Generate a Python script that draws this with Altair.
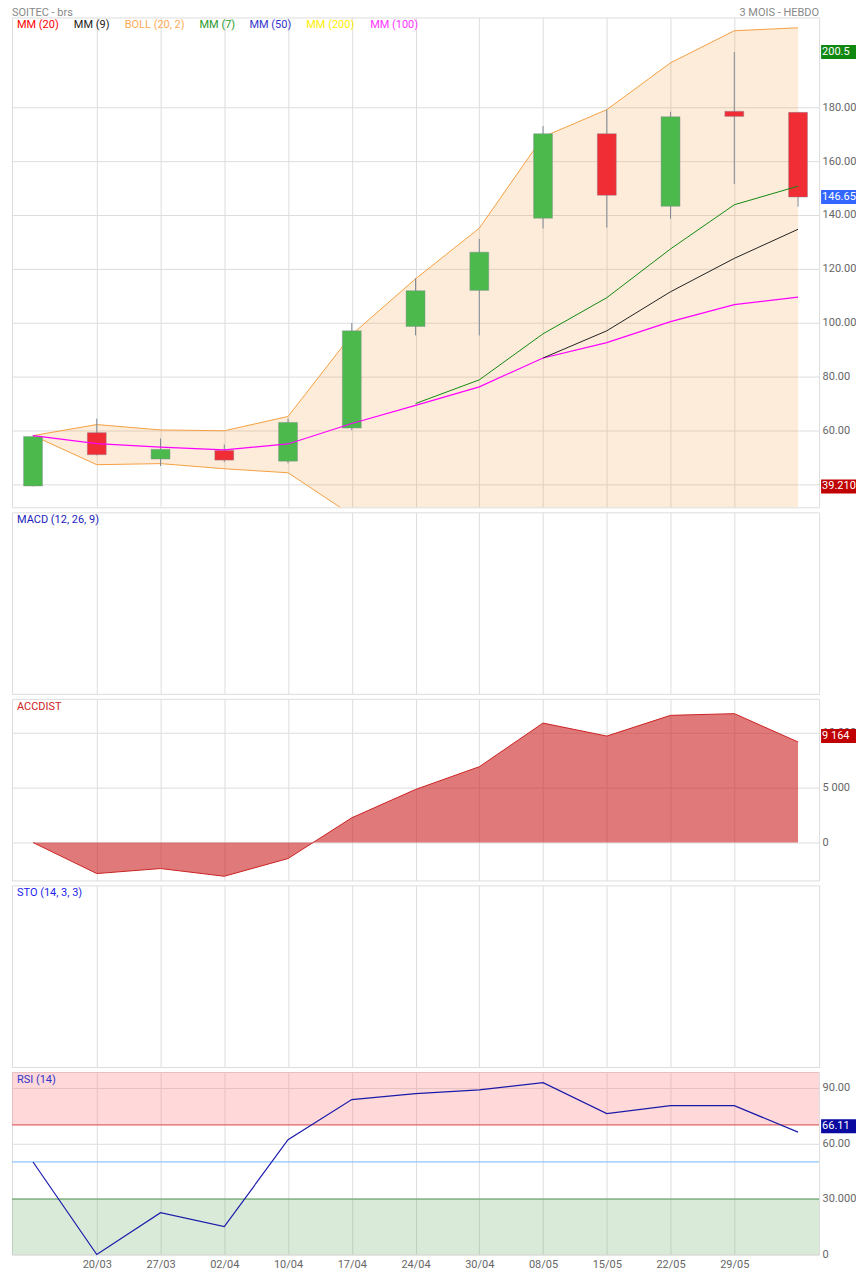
import altair as alt
import pandas as pd

# ---------------- data ----------------
tick_labels = ["20/03", "27/03", "02/04", "10/04", "17/04", "24/04",
               "30/04", "08/05", "15/05", "22/05", "29/05"]

opens  = [39.4, 59.2, 49.4, 52.6, 48.6, 60.9, 98.6, 112.0, 138.8, 170.2, 143.2, 178.5, 178.1]
highs  = [58.2, 64.4, 57.0, 54.8, 64.4, 99.9, 116.5, 131.1, 173.0, 179.1, 178.3, 200.5, 178.3]
lows   = [39.21, 50.8, 46.8, 48.3, 47.8, 60.1, 95.3, 95.3, 135.0, 135.3, 138.6, 151.5, 143.1]
closes = [57.8, 51.0, 53.0, 49.0, 63.0, 97.0, 111.9, 126.2, 170.2, 147.3, 176.5, 176.6, 146.65]

boll_up = [58.1, 62.2, 60.2, 59.9, 65.2, 95.6, 116.3, 135.1, 169.0, 179.1, 196.5, 208.4, 209.5]
boll_lo = [58.1, 47.3, 47.7, 45.8, 44.3, 28.6, 22.0, 17.0, 8.0, 5.0, 3.0, 2.0, 3.0]

mm7   = [None] * 6 + [70.0, 78.8, 95.9, 109.3, 127.4, 143.8, 150.7]
mm9   = [None] * 8 + [86.9, 97.0, 111.5, 123.9, 134.7]
mm100 = [58.1, 55.1, 53.8, 52.8, 55.0, 62.6, 69.3, 76.2, 86.9, 92.6, 100.4, 106.7, 109.5]

accdist = [0, -2828, -2372, -3075, -1460, 2254, 4836, 6907, 10885, 9699, 11588, 11743, 9164]
rsi = [50.0, 0.0, 22.6, 15.1, 62.0, 83.7, 86.9, 88.9, 92.8, 76.1, 80.4, 80.4, 66.11]

legend_names = ["MM (20)", "MM (9)", "BOLL (20, 2)", "MM (7)", "MM (50)", "MM (200)", "MM (100)"]
panel_names = ["MACD (12, 26, 9)", "ACCDIST", "STO (14, 3, 3)", "RSI (14)"]
title_left = "SOITEC - brs"
title_right = "3 MOIS - HEBDO"

rsi_levels = [70, 50, 30]

# ---------------- styles ----------------
FONT = "Roboto"
W = 809
GRID = "#dddddd"
LAB = "#666666"
GREEN_C = "#4cb94c"
RED_C = "#f02c34"

n = len(opens)
df = pd.DataFrame({
    "i": list(range(n)), "open": opens, "high": highs, "low": lows, "close": closes,
    "bu": boll_up, "bl": boll_lo, "mm7": mm7, "mm9": mm9, "mm100": mm100,
    "acc": accdist, "rsi": rsi,
})
df["col"] = [GREEN_C if c >= o else RED_C for o, c in zip(opens, closes)]

xdom = [-0.33, 12.33]
label_expr = "[" + ",".join("'%s'" % t for t in tick_labels) + "][datum.value - 1]"


def xenc(show=False):
    return alt.X(
        "i:Q",
        scale=alt.Scale(domain=xdom, nice=False, zero=False, padding=0),
        axis=alt.Axis(values=list(range(1, len(tick_labels) + 1)), grid=True, gridColor=GRID,
                      labels=show, ticks=False, domain=False, title=None,
                      labelExpr=label_expr, labelColor=LAB, labelFontSize=11,
                      labelPadding=4, labelFont=FONT, minExtent=0),
    )


def value_box(value, text, color, yscale, off_top=-7, off_bot=7, dy=0):
    d = pd.DataFrame({"v": [value], "t": [text]})
    rect = alt.Chart(d).mark_rect(color=color, yOffset=off_top, y2Offset=off_bot).encode(
        x=alt.value(811), x2=alt.value(853),
        y=alt.Y("v:Q", scale=yscale), y2=alt.Y2("v:Q"))
    txt = alt.Chart(d).mark_text(align="left", baseline="middle", color="white",
                                 fontSize=11, font=FONT, dy=dy).encode(
        x=alt.value(812), y=alt.Y("v:Q", scale=yscale), text="t:N")
    return [rect, txt]


def label_text(text, color, px, py=8, size=11, align="left"):
    return alt.Chart(pd.DataFrame({"t": [text]})).mark_text(
        align=align, baseline="middle", fontSize=size, font=FONT, color=color
    ).encode(x=alt.value(px), y=alt.value(py), text="t:N")


# ---------------- main panel ----------------
ys_main = alt.Scale(domain=[31.48, 213.33], nice=False, zero=False, padding=0)
yax_main = alt.Axis(orient="right", values=list(range(40, 200, 20)), format=".2f", grid=True,
                    gridColor=GRID, ticks=False, domain=False, labelPadding=3,
                    labelColor=LAB, labelFontSize=11, labelFont=FONT, title=None)

base = alt.Chart(df)
band = base.mark_area(color="#f5a040", opacity=0.2, clip=True).encode(
    x=xenc(), y=alt.Y("bl:Q", scale=ys_main, axis=yax_main), y2="bu:Q")
up_line = base.mark_line(color="#f5a040", strokeWidth=1, clip=True).encode(
    x=xenc(), y=alt.Y("bu:Q", scale=ys_main))
lo_line = base.mark_line(color="#f5a040", strokeWidth=1, clip=True).encode(
    x=xenc(), y=alt.Y("bl:Q", scale=ys_main))
wick = base.mark_rule(color="#7d8a9a", strokeWidth=1).encode(
    x=xenc(), y=alt.Y("low:Q", scale=ys_main), y2="high:Q")
body = base.mark_bar(size=19, stroke="#8a8a9a", strokeWidth=0.7, strokeOpacity=0.6).encode(
    x=xenc(), y=alt.Y("open:Q", scale=ys_main), y2="close:Q",
    color=alt.Color("col:N", scale=None))
l100 = alt.Chart(df.dropna(subset=["mm100"])).mark_line(color="#ff00ff", strokeWidth=1.2).encode(
    x=xenc(), y=alt.Y("mm100:Q", scale=ys_main))
l7 = alt.Chart(df.dropna(subset=["mm7"])).mark_line(color="#138a13", strokeWidth=1).encode(
    x=xenc(), y=alt.Y("mm7:Q", scale=ys_main))
l9 = alt.Chart(df.dropna(subset=["mm9"])).mark_line(color="#222222", strokeWidth=1).encode(
    x=xenc(), y=alt.Y("mm9:Q", scale=ys_main))

legend_colors = ["#ff0000", "#222222", "#ffaa55", "#2a9a2a", "#3333cc", "#ffee00", "#ff33ff"]
legend_px = [5, 62, 113, 188, 238, 295, 359]
legend_layers = [label_text(nm, c, px) for nm, c, px in zip(legend_names, legend_colors, legend_px)]

titles = [label_text(title_left, "#888888", 0, py=-4),
          label_text(title_right, "#888888", W, py=-4, align="right")]

boxes_main = (value_box(max(highs), "%s" % max(highs), "#118811", ys_main)
              + value_box(closes[-1], "%s" % closes[-1], "#3366ff", ys_main)
              + value_box(min(lows), "%.3f" % min(lows), "#c00000", ys_main))

main = alt.layer(band, up_line, lo_line, wick, body, l100, l7, l9,
                 *legend_layers, *titles, *boxes_main).properties(width=W, height=491)

# ---------------- empty panels ----------------
def empty_panel(name, color):
    ghost = alt.Chart(df).mark_point(opacity=0).encode(x=xenc(), y=alt.value(0))
    return alt.layer(ghost, label_text(name, color, 5)).properties(width=W, height=182)

macd = empty_panel(panel_names[0], "#2222bb")
sto = empty_panel(panel_names[2], "#2222ee")

# ---------------- ACCDIST ----------------
ys_acc = alt.Scale(domain=[-3455, 13091], nice=False, zero=False, padding=0)
yax_acc = alt.Axis(orient="right", values=[0, 5000, 10000], grid=True, gridColor=GRID,
                   ticks=False, domain=False, labelPadding=3, labelColor=LAB, labelFontSize=11,
                   labelFont=FONT, title=None,
                   labelExpr="replace(format(datum.value, ','), ',', ' ')")
acc_area = base.mark_area(color="#cc2222", opacity=0.6).encode(
    x=xenc(), y=alt.Y("acc:Q", scale=ys_acc, axis=yax_acc), y2=alt.datum(0))
acc_line = base.mark_line(color="#cc2222", strokeWidth=1).encode(
    x=xenc(), y=alt.Y("acc:Q", scale=ys_acc))
acc_box = value_box(accdist[-1], "{:,}".format(accdist[-1]).replace(",", " "), "#c00000",
                    ys_acc, off_top=-13, off_bot=1, dy=-6)
acc = alt.layer(acc_area, acc_line, label_text(panel_names[1], "#cc2222", 5),
                *acc_box).properties(width=W, height=182)

# ---------------- RSI ----------------
ys_rsi = alt.Scale(domain=[0, 98.6], nice=False, zero=False, padding=0)
yax_rsi = alt.Axis(orient="right", values=[0, 30, 60, 90], grid=True, gridColor=GRID,
                   ticks=False, domain=False, labelPadding=3, labelColor=LAB, labelFontSize=11,
                   labelFont=FONT, title=None,
                   labelExpr="datum.value == 0 ? '0' : datum.value == 30 ? '30.000' : format(datum.value, '.2f')")
rsi_line = base.mark_line(color="#1a1aaa", strokeWidth=1.2).encode(
    x=xenc(True), y=alt.Y("rsi:Q", scale=ys_rsi, axis=yax_rsi))
hi_band = alt.Chart(pd.DataFrame({"lo": [rsi_levels[0]], "hi": [100]})).mark_rect(
    color="#ff8080", opacity=0.3, clip=True).encode(
    x=alt.value(0), x2=alt.value(W), y=alt.Y("lo:Q", scale=ys_rsi), y2="hi:Q")
lo_band = alt.Chart(pd.DataFrame({"lo": [0], "hi": [rsi_levels[2]]})).mark_rect(
    color="#66aa66", opacity=0.25).encode(
    x=alt.value(0), x2=alt.value(W), y=alt.Y("lo:Q", scale=ys_rsi), y2="hi:Q")
level_colors = ["#e06666", "#8cc8ff", "#559955"]
level_rules = [alt.Chart(pd.DataFrame({"v": [lv]})).mark_rule(color=c, strokeWidth=1.2).encode(
    x=alt.value(0), x2=alt.value(W), y=alt.Y("v:Q", scale=ys_rsi))
    for lv, c in zip(rsi_levels, level_colors)]
rsi_box = value_box(rsi[-1], "%.2f" % rsi[-1], "#0a0aa0", ys_rsi, off_top=-13, off_bot=1, dy=-6)
rsi_panel = alt.layer(hi_band, lo_band, *level_rules, rsi_line,
                      label_text(panel_names[3], "#3333cc", 5), *rsi_box
                      ).properties(width=W, height=183)

chart = alt.vconcat(main, macd, acc, sto, rsi_panel, spacing=5, bounds="flush").properties(
    padding={"left": 2, "top": -3, "right": -8, "bottom": -1},
).configure_view(stroke="#dddddd").configure_axis(labelFont=FONT)

chart.save("out.html", embed_options={"renderer": "svg", "actions": False})
